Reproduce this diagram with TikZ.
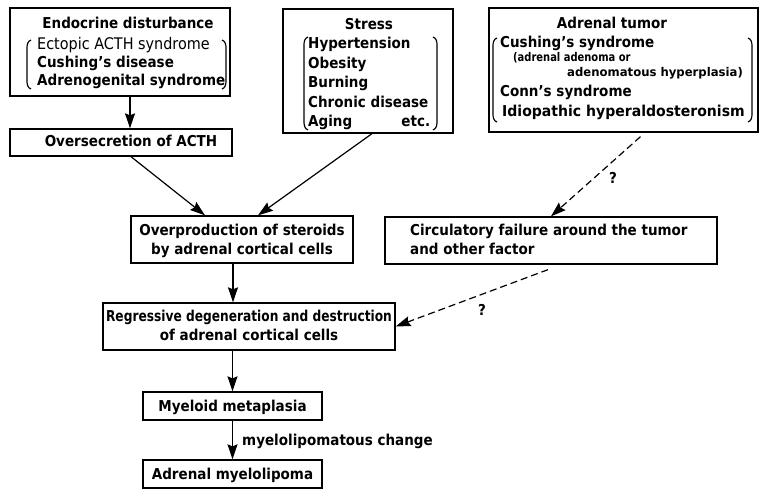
\documentclass[tikz,border=0pt]{standalone}
\usepackage{fontspec}
\setmainfont{DejaVu Sans}[FakeStretch=0.9]
\usetikzlibrary{arrows.meta,calc}
\tikzset{
 box/.style={draw, line width=1.3pt, inner sep=0pt},
 txt/.style={inner sep=0pt, font=\fontsize{15}{18}\selectfont\bfseries},
 smalltxt/.style={inner sep=0pt, font=\fontsize{12}{13}\selectfont\bfseries},
 arr/.style={line width=1.2pt, -{Stealth[length=15pt,width=10pt,inset=2pt]}},
 darr/.style={arr, dash pattern=on 7pt off 4pt},
 paren/.style={line width=1.2pt},
}
\begin{document}
\begin{tikzpicture}[x=1pt,y=-1pt]
\useasboundingbox (0,0) rectangle (764,489);
% boxes
\node[box, minimum width=220pt, minimum height=88pt] (endo) at (120,52) {};
\node[box, minimum width=222pt, minimum height=27pt] (overs) at (121,142.5) {};
\node[box, minimum width=170pt, minimum height=124pt] (stress) at (368,71) {};
\node[box, minimum width=269pt, minimum height=124pt] (tumor) at (623.5,70) {};
\node[box, minimum width=222pt, minimum height=47pt] (overp) at (242,239.5) {};
\node[box, minimum width=332pt, minimum height=47pt] (circ) at (551,240.5) {};
\node[box, minimum width=292pt, minimum height=47pt] (regr) at (249,326.5) {};
\node[box, minimum width=179pt, minimum height=28pt] (myel) at (232.5,406) {};
\node[box, minimum width=179pt, minimum height=28pt] (adr) at (232.5,474) {};
% endocrine texts
\node[txt, anchor=base] (e0) at (128,29) {Endocrine disturbance};
\node[txt, anchor=base west] (e1) at (37,50) {\fontsize{16}{18}\selectfont\mdseries Ectopic ACTH syndrome};
\node[txt, anchor=base west] (e2) at (37,68) {Cushing’s disease};
\node[txt, anchor=base west] (e3) at (37,86) {Adrenogenital syndrome};
\draw[paren] (31,40) to[out=-160,in=90] (27,48) -- (27,81) to[out=-90,in=160] (31,89);
\draw[paren] (222,40) to[out=-20,in=90] (226,48) -- (226,81) to[out=-90,in=20] (222,89);
\node[txt, anchor=base] (o0) at (131,147) {Oversecretion of ACTH};
% stress texts
\node[txt, anchor=base] (s0) at (369,30) {Stress};
\node[txt, anchor=base west] (s1) at (308,49) {Hypertension};
\node[txt, anchor=base west] (s2) at (308,68.5) {Obesity};
\node[txt, anchor=base west] (s3) at (308,88) {Burning};
\node[txt, anchor=base west] (s4) at (308,107.5) {Chronic disease};
\node[txt, anchor=base west] (s5) at (308,127) {\makebox[122pt][l]{Aging\hfill etc.}};
\draw[paren] (308,37) to[out=-160,in=90] (304,45) -- (304,121) to[out=-90,in=160] (308,130);
\draw[paren] (433,37) to[out=-20,in=90] (437,45) -- (437,121) to[out=-90,in=20] (433,130);
% tumor texts
\node[txt, anchor=base] (t0) at (612,29) {Adrenal tumor};
\node[txt, anchor=base west] (t1) at (500,48) {Cushing’s syndrome};
\node[smalltxt, anchor=base west] (t2) at (513,62) {\scalebox{0.92}[1]{(adrenal adenoma or}};
\node[smalltxt, anchor=base west] (t3) at (567,77) {\scalebox{1.08}[1]{adenomatous hyperplasia)}};
\node[txt, anchor=base west] (t4) at (500,97) {Conn’s syndrome};
\node[txt, anchor=base west] (t5) at (502,117) {\scalebox{1.04}[1]{Idiopathic hyperaldosteronism}};
\draw[paren] (497,38) to[out=-160,in=90] (493,46) -- (493,114) to[out=-90,in=160] (497,122);
\draw[paren] (748,38) to[out=-20,in=90] (752,46) -- (752,114) to[out=-90,in=20] (748,122);
% middle texts
\node[txt, anchor=base] (p1) at (242,236) {Overproduction of steroids};
\node[txt, anchor=base] (p2) at (242,255) {by adrenal cortical cells};
\node[txt, anchor=base west] (c1) at (410,236) {Circulatory failure around the tumor};
\node[txt, anchor=base west] (c2) at (410,255) {and other factor};
\node[txt, anchor=base] (r1) at (249,322) {\scalebox{0.905}[1]{Regressive degeneration and destruction}};
\node[txt, anchor=base] (r2) at (249,341) {of adrenal cortical cells};
\node[txt, anchor=base] (m1) at (232.5,411.5) {Myeloid metaplasia};
\node[txt, anchor=base] (a1) at (232.5,479.5) {Adrenal myelolipoma};
\node[txt, anchor=base west] (lab) at (242,445) {myelolipomatous change};
\node[txt] (q1) at (613,178) {?};
\node[txt] (q2) at (482,310) {?};
% connectors
\draw[arr] ([xshift=10pt]endo.south) -- ([xshift=10pt]endo.south |- overs.north);
\draw[arr] ([xshift=10pt]overs.south) -- ([xshift=-37pt]overp.north);
\draw[arr] ([xshift=4pt]stress.south) -- ([xshift=16pt]overp.north);
\draw[arr] ([xshift=-9pt]overp.south) -- ([xshift=-9pt]overp.south |- regr.north);
\draw[arr] (myel.north |- regr.south) -- (myel.north);
\draw[arr] (myel.south) -- (adr.north);
\draw[darr] ([xshift=17pt,yshift=-4pt]tumor.south) -- (circ.north);
\draw[darr] ([xshift=-3pt,yshift=-5pt]circ.south) -- (regr.east);
\end{tikzpicture}
\end{document}
